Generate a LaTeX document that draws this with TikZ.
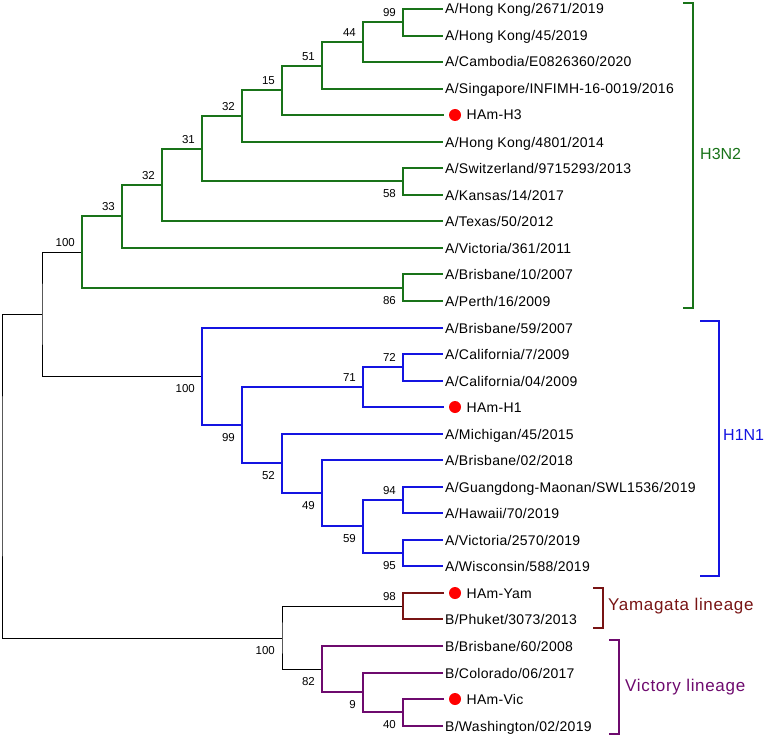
\documentclass[tikz,border=0pt]{standalone}
\usepackage{fontspec}
\setmainfont{Liberation Sans}
\usepackage{xcolor}
\usepackage{tikz}

\definecolor{hthree}{RGB}{25,115,25}
\definecolor{hone}{RGB}{20,20,225}
\definecolor{yama}{RGB}{120,20,20}
\definecolor{vict}{RGB}{110,10,110}

\tikzset{
  leaf/.style={anchor=west, inner xsep=2pt, inner ysep=0pt, text height=10pt, text depth=0pt,
    font=\fontsize{14}{16}\selectfont\addfontfeature{LetterSpace=2}},
  hamleaf/.style={leaf, inner xsep=0pt},
  dot/.style={circle, fill=red, inner sep=0pt, minimum size=12pt, outer sep=5.5pt},
  boot/.style={anchor=east, inner sep=0pt, text height=8.2pt, text depth=0pt,
    font=\fontsize{11.5}{13}\selectfont},
  group/.style={anchor=west, inner sep=0pt, text height=11.5pt, text depth=0pt,
    font=\fontsize{16}{18}\selectfont},
  lineage/.style={anchor=west, inner sep=0pt, text height=12pt, text depth=0pt,
    font=\fontsize{17}{19}\selectfont\addfontfeature{LetterSpace=4}},
  stem/.style={line width=1pt, black},
  clade/.style={line width=2pt},
}

\begin{document}
\begin{tikzpicture}[x=1pt, y=-1pt]
    \useasboundingbox (0,0) rectangle (767,738);

    % leaves
    \node[leaf] (l0) at (443,9) {A/Hong Kong/2671/2019};
    \node[leaf] (l1) at (443,36) {A/Hong Kong/45/2019};
    \node[leaf] (l2) at (443,62) {A/Cambodia/E0826360/2020};
    \node[leaf] (l3) at (443,89) {A/Singapore/INFIMH-16-0019/2016};
    \node[dot] (d4) at (455,115) {};
    \node[hamleaf] (l4) at (d4.east) {HAm-H3};
    \node[leaf] (l5) at (443,142) {A/Hong Kong/4801/2014};
    \node[leaf] (l6) at (443,168) {A/Switzerland/9715293/2013};
    \node[leaf] (l7) at (443,195) {A/Kansas/14/2017};
    \node[leaf] (l8) at (443,221) {A/Texas/50/2012};
    \node[leaf] (l9) at (443,248) {A/Victoria/361/2011};
    \node[leaf] (l10) at (443,274) {A/Brisbane/10/2007};
    \node[leaf] (l11) at (443,301) {A/Perth/16/2009};
    \node[leaf] (l12) at (443,328) {A/Brisbane/59/2007};
    \node[leaf] (l13) at (443,354) {A/California/7/2009};
    \node[leaf] (l14) at (443,381) {A/California/04/2009};
    \node[dot] (d15) at (455,407) {};
    \node[hamleaf] (l15) at (d15.east) {HAm-H1};
    \node[leaf] (l16) at (443,434) {A/Michigan/45/2015};
    \node[leaf] (l17) at (443,460) {A/Brisbane/02/2018};
    \node[leaf] (l18) at (443,487) {A/Guangdong-Maonan/SWL1536/2019};
    \node[leaf] (l19) at (443,513) {A/Hawaii/70/2019};
    \node[leaf] (l20) at (443,540) {A/Victoria/2570/2019};
    \node[leaf] (l21) at (443,566) {A/Wisconsin/588/2019};
    \node[dot] (d22) at (455,593) {};
    \node[hamleaf] (l22) at (d22.east) {HAm-Yam};
    \node[leaf] (l23) at (443,619) {B/Phuket/3073/2013};
    \node[leaf] (l24) at (443,646) {B/Brisbane/60/2008};
    \node[leaf] (l25) at (443,673) {B/Colorado/06/2017};
    \node[dot] (d26) at (455,699) {};
    \node[hamleaf] (l26) at (d26.east) {HAm-Vic};
    \node[leaf] (l27) at (443,726) {B/Washington/02/2019};

    % inner nodes
    \coordinate (root) at (2,476);
    \coordinate (nA) at (42,314);
    \coordinate (nH3) at (82,252);
    \coordinate (n33) at (122,216);
    \coordinate (n32a) at (162,185);
    \coordinate (n31) at (202,149);
    \coordinate (n32b) at (242,116);
    \coordinate (n15) at (282,90);
    \coordinate (n51) at (322,66);
    \coordinate (n44) at (363,42);
    \coordinate (n99a) at (403,22);
    \coordinate (n58) at (403,181);
    \coordinate (n86) at (403,288);
    \coordinate (nH1) at (202,376);
    \coordinate (n99b) at (242,425);
    \coordinate (n71) at (363,387);
    \coordinate (n72) at (403,367);
    \coordinate (n52) at (282,463);
    \coordinate (n49) at (322,493);
    \coordinate (n59) at (363,526);
    \coordinate (n94) at (403,500);
    \coordinate (n95) at (403,553);
    \coordinate (nB) at (282,638);
    \coordinate (n98) at (403,606);
    \coordinate (n82) at (322,669);
    \coordinate (n9) at (363,692);
    \coordinate (n40) at (403,712);

    \draw[stem] (nA) -| (root) |- (nB);
    \draw[stem] (nH3) -| (nA) |- (nH1);
    \draw[stem] (n98) -| (nB) |- (n82);

    \draw[clade,hthree] (l0.west) -| (n99a) |- (l1.west);
    \draw[clade,hthree] (n99a) -| (n44) |- (l2.west);
    \draw[clade,hthree] (n44) -| (n51) |- (l3.west);
    \draw[clade,hthree] (n51) -| (n15) |- (d4.west);
    \draw[clade,hthree] (n15) -| (n32b) |- (l5.west);
    \draw[clade,hthree] (l6.west) -| (n58) |- (l7.west);
    \draw[clade,hthree] (n32b) -| (n31) |- (n58);
    \draw[clade,hthree] (n31) -| (n32a) |- (l8.west);
    \draw[clade,hthree] (n32a) -| (n33) |- (l9.west);
    \draw[clade,hthree] (l10.west) -| (n86) |- (l11.west);
    \draw[clade,hthree] (n33) -| (nH3) |- (n86);

    \draw[clade,hone] (l13.west) -| (n72) |- (l14.west);
    \draw[clade,hone] (n72) -| (n71) |- (d15.west);
    \draw[clade,hone] (l18.west) -| (n94) |- (l19.west);
    \draw[clade,hone] (l20.west) -| (n95) |- (l21.west);
    \draw[clade,hone] (n94) -| (n59) |- (n95);
    \draw[clade,hone] (l17.west) -| (n49) |- (n59);
    \draw[clade,hone] (l16.west) -| (n52) |- (n49);
    \draw[clade,hone] (n71) -| (n99b) |- (n52);
    \draw[clade,hone] (l12.west) -| (nH1) |- (n99b);

    \draw[clade,yama] (d22.west) -| (n98) |- (l23.west);
    \draw[clade,vict] (d26.west) -| (n40) |- (l27.west);
    \draw[clade,vict] (l25.west) -| (n9) |- (n40);
    \draw[clade,vict] (l24.west) -| (n82) |- (n9);

    % bootstrap values
    \node[boot] (b99a) at (396,12) {99};
    \node[boot] (b44) at (356,32) {44};
    \node[boot] (b51) at (315,56) {51};
    \node[boot] (b15) at (275,80) {15};
    \node[boot] (b32b) at (235,106) {32};
    \node[boot] (b31) at (195,139) {31};
    \node[boot] (b32a) at (155,175) {32};
    \node[boot] (b33) at (115,206) {33};
    \node[boot] (bH3) at (75,242) {100};
    \node[boot] (b58) at (396,193.5) {58};
    \node[boot] (b86) at (396,300.5) {86};
    \node[boot] (b72) at (396,357) {72};
    \node[boot] (b71) at (356,377) {71};
    \node[boot] (bH1) at (195,388.5) {100};
    \node[boot] (b99b) at (235,437.5) {99};
    \node[boot] (b52) at (275,475.5) {52};
    \node[boot] (b49) at (315,505.5) {49};
    \node[boot] (b59) at (356,538.5) {59};
    \node[boot] (b94) at (396,490) {94};
    \node[boot] (b95) at (396,565.5) {95};
    \node[boot] (b98) at (396,596) {98};
    \node[boot] (bB) at (275,650.5) {100};
    \node[boot] (b82) at (315,681.5) {82};
    \node[boot] (b9) at (356,704.5) {9};
    \node[boot] (b40) at (396,724.5) {40};

    % groups
    \draw[clade,hthree] (683,3) -- (693,3) -- (693,308) -- (683,308);
    \node[group,hthree] (gH3) at (700,154) {H3N2};
    \draw[clade,hone] (700,321) -- (719,321) -- (719,576) -- (700,576);
    \node[group,hone] (gH1) at (723,435) {H1N1};
    \draw[clade,yama] (593,588) -- (603,588) -- (603,628) -- (593,628);
    \node[lineage,yama] (gYam) at (608,604.5) {Yamagata lineage};
    \draw[clade,vict] (609,640) -- (619,640) -- (619,734) -- (609,734);
    \node[lineage,vict] (gVic) at (625,685) {Victory lineage};
\end{tikzpicture}
\end{document}
